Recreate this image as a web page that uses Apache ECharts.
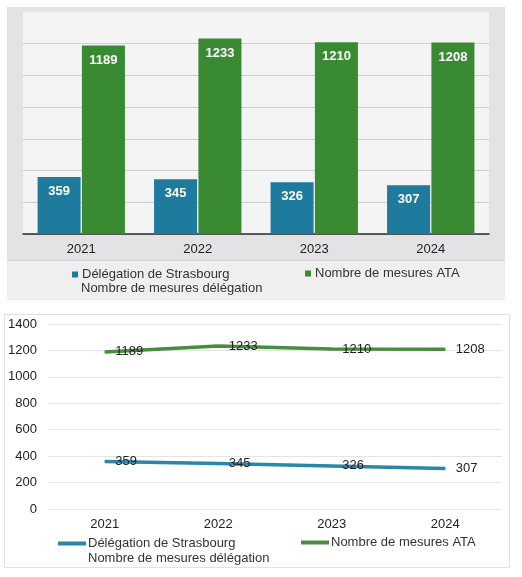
<!DOCTYPE html>
<html><head><meta charset="utf-8">
<script src="https://cdn.jsdelivr.net/npm/echarts@6/dist/echarts.min.js"></script>
<style>
html,body{margin:0;padding:0;background:#fff;width:522px;height:577px;overflow:hidden}
#panel{position:absolute;left:7px;top:7px;width:498px;height:292px;background:#e3e3e5}
#band{position:absolute;left:7px;top:260px;width:498px;height:39px;background:#efeff0;border-top:1px solid #d4d4d6}
#topChart{position:absolute;left:7px;top:7px;width:498px;height:292px}
#botChart{position:absolute;left:4px;top:314px;width:506px;height:254px;background:#fff;border:1px solid #e2e2e2;box-sizing:border-box}
</style></head>
<body>
<div id="panel"></div>
<div id="band"></div>
<div id="topChart"></div>
<div id="botChart"></div>
<script>
const categories = ['2021','2022','2023','2024'];
const delegation = [359, 345, 326, 307];
const ata = [1189, 1233, 1210, 1208];
const nameDelegLine1 = 'Délégation de Strasbourg';
const nameDelegLine2 = 'Nombre de mesures délégation';
const nameAta = 'Nombre de mesures ATA';
const blue = '#1f7b9e';
const green = '#3a8a34';
const blueLine = '#2a87aa';
const greenLine = '#4a8c3e';
const font = 'Liberation Sans, Arial, sans-serif';

const chartA = echarts.init(document.getElementById('topChart'));
chartA.setOption({
  animation:false,
  backgroundColor:'transparent',
  grid:{left:16,right:16,top:5,bottom:65,show:true,backgroundColor:'#f4f4f5',borderWidth:0},
  xAxis:{type:'category',data:categories,
    axisLine:{lineStyle:{color:'#2a2a2a',width:1.5}},axisTick:{show:false},
    axisLabel:{color:'#222',fontSize:13,fontFamily:font,margin:9}},
  yAxis:{type:'value',min:0,max:1400,interval:200,axisLabel:{show:false},
    axisLine:{show:false},axisTick:{show:false},
    splitLine:{showMaxLine:false,lineStyle:{color:'#cfcfd2',width:1}}},
  legend:[
    {data:[nameDelegLine1],left:60,top:256,icon:'rect',itemWidth:6,itemHeight:6,itemGap:4,
     textStyle:{color:'#333',fontSize:13,fontFamily:font,padding:[0,0,0,-1]}},
    {data:[nameAta],left:293,top:255,icon:'rect',itemWidth:6,itemHeight:6,
     textStyle:{color:'#333',fontSize:13,fontFamily:font,padding:[0,0,0,-1]}}
  ],
  graphic:[{type:'text',left:74,top:275,style:{text:nameDelegLine2,fill:'#333',font:'13px '+font}}],
  series:[
    {name:nameDelegLine1,type:'bar',data:delegation,barGap:'3%',barCategoryGap:'25%',
     itemStyle:{color:blue},
     label:{show:true,position:'insideTop',distance:8,color:'#fff',fontWeight:'bold',fontSize:13,fontFamily:font}},
    {name:nameAta,type:'bar',data:ata,itemStyle:{color:green},
     label:{show:true,position:'insideTop',distance:8,color:'#fff',fontWeight:'bold',fontSize:13,fontFamily:font}}
  ]
});

const chartB = echarts.init(document.getElementById('botChart'));
chartB.setOption({
  animation:false,
  grid:{left:43,right:7,top:9,bottom:58},
  xAxis:{type:'category',data:categories,
    axisLine:{show:false},axisTick:{show:false},
    axisLabel:{color:'#222',fontSize:13,fontFamily:font,margin:9}},
  yAxis:{type:'value',min:0,max:1400,interval:200,
    axisLine:{show:false},axisTick:{show:false},
    axisLabel:{color:'#222',fontSize:13,fontFamily:font,margin:11,formatter:function(v){return String(v);}},
    splitLine:{lineStyle:{color:'#e4e4e8',width:1}}},
  legend:[
    {data:[nameDelegLine1],left:48,top:217,icon:'rect',itemWidth:28,itemHeight:4,itemGap:4,
     textStyle:{color:'#333',fontSize:13,fontFamily:font,padding:[0,0,0,-3]}},
    {data:[nameAta],left:291,top:216,icon:'rect',itemWidth:28,itemHeight:4,
     textStyle:{color:'#333',fontSize:13,fontFamily:font,padding:[0,0,0,-3]}}
  ],
  graphic:[{type:'text',left:83,top:237,style:{text:nameDelegLine2,fill:'#333',font:'13px '+font}}],
  series:[
    {name:nameDelegLine1,type:'line',data:delegation,symbol:'circle',symbolSize:1,showSymbol:true,
     lineStyle:{color:blueLine,width:3.5},itemStyle:{color:blueLine},
     label:{show:true,position:'right',distance:10,color:'#222',fontSize:13,fontFamily:font}},
    {name:nameAta,type:'line',data:ata,symbol:'circle',symbolSize:1,showSymbol:true,
     lineStyle:{color:greenLine,width:3.5},itemStyle:{color:greenLine},
     label:{show:true,position:'right',distance:10,color:'#222',fontSize:13,fontFamily:font}}
  ]
});
</script>
</body></html>
